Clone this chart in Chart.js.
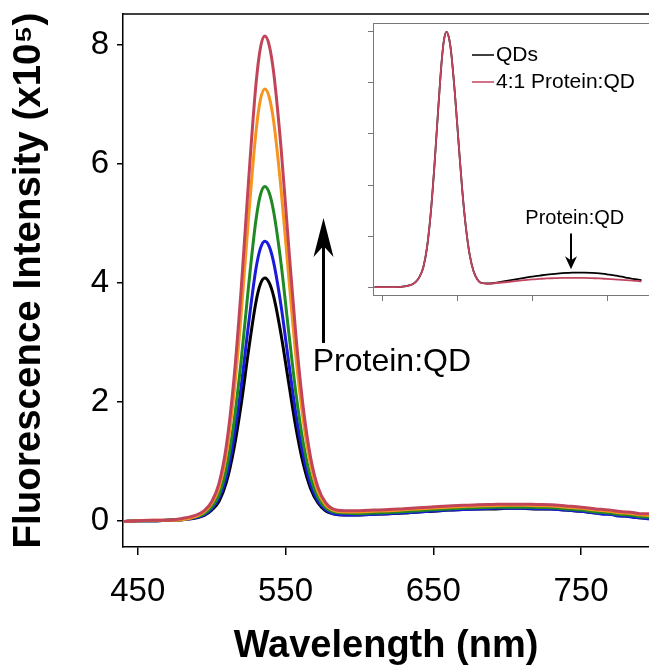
<!DOCTYPE html>
<html>
<head>
<meta charset="utf-8">
<script src="https://cdn.jsdelivr.net/npm/chart.js@4.4.0/dist/chart.umd.min.js"></script>
<style>
body{margin:0;background:#fff;}
#wrap{position:relative;width:649px;height:671px;overflow:hidden;background:#fff;}
#main{position:absolute;left:0;top:0;}
#inset{position:absolute;left:360px;top:18px;}
</style>
</head>
<body>
<div id="wrap">
<canvas id="main" width="649" height="671"></canvas>
<canvas id="inset" width="289" height="290"></canvas>
</div>
<script>
// wavelengths (nm), shared by every curve
const wavelengths = [440,450,460,470,480,490,495,500,505,510,515,520,525,530,533,536,539,542,547,552,557,562,567,572,577,582,590,
    600,610,620,630,640,650,660,670,680,690,700,710,720,730,740,750,760,765,770,775,780,785,790,796];

// main panel, intensity x10^5, increasing Protein:QD ratio
const qdOnly = [-0.01,0,0,0.01,0.02,0.05,0.09,0.18,0.33,0.65,1.20,1.96,2.87,3.68,3.98,4.08,4.00,3.77,3.13,2.34,1.57,0.96,0.54,0.30,0.17,0.12,0.10,
    0.10,0.11,0.12,0.13,0.15,0.16,0.18,0.19,0.20,0.20,0.21,0.21,0.20,0.20,0.18,0.16,0.13,0.12,0.11,0.09,0.08,0.07,0.05,0.04];
const ratio1 = [-0.01,0,0,0.01,0.02,0.06,0.10,0.20,0.38,0.74,1.38,2.26,3.31,4.24,4.58,4.70,4.61,4.34,3.61,2.69,1.80,1.10,0.61,0.33,0.19,0.12,0.10,
    0.10,0.11,0.12,0.135,0.15,0.165,0.18,0.19,0.20,0.21,0.21,0.21,0.205,0.20,0.18,0.16,0.13,0.11,0.11,0.08,0.08,0.06,0.05,0.03];
const ratio2 = [-0.01,0,0,0.01,0.02,0.07,0.12,0.23,0.44,0.88,1.64,2.70,3.95,5.06,5.48,5.62,5.51,5.19,4.32,3.21,2.15,1.31,0.73,0.39,0.22,0.15,0.13,
    0.12,0.13,0.14,0.155,0.17,0.185,0.20,0.21,0.22,0.23,0.23,0.23,0.225,0.22,0.20,0.18,0.15,0.14,0.13,0.11,0.10,0.09,0.07,0.06];
const ratio3 = [-0.01,0,0.01,0.01,0.02,0.08,0.15,0.29,0.56,1.13,2.11,3.48,5.10,6.54,7.08,7.26,7.12,6.71,5.57,4.15,2.77,1.69,0.94,0.49,0.27,0.18,0.15,
    0.15,0.16,0.17,0.185,0.20,0.215,0.23,0.24,0.25,0.255,0.26,0.26,0.255,0.25,0.23,0.21,0.18,0.17,0.16,0.14,0.13,0.12,0.10,0.09];
const ratio4 = [-0.01,0,0.01,0.01,0.04,0.10,0.17,0.32,0.63,1.27,2.36,3.90,5.72,7.34,7.95,8.15,7.99,7.53,6.26,4.66,3.12,1.90,1.06,0.56,0.31,0.20,0.17,
    0.17,0.18,0.19,0.205,0.22,0.235,0.25,0.26,0.27,0.275,0.28,0.28,0.275,0.27,0.25,0.23,0.20,0.19,0.18,0.16,0.15,0.14,0.12,0.12];

// inset, normalised spectra
const insetQD = [0,0,0,0,0.003,0.01,0.02,0.04,0.077,0.155,0.29,0.48,0.70,0.90,0.975,1.0,0.98,0.925,0.766,0.57,0.38,0.23,0.125,0.063,0.031,0.017,0.014,
    0.016,0.021,0.026,0.031,0.036,0.041,0.045,0.049,0.052,0.055,0.056,0.057,0.057,0.056,0.054,0.050,0.046,0.043,0.041,0.037,0.035,0.032,0.030,0.027];
const insetProtein = [0,0,0,0,0.003,0.01,0.02,0.04,0.077,0.155,0.29,0.48,0.70,0.90,0.975,1.0,0.98,0.925,0.766,0.57,0.38,0.23,0.125,0.062,0.030,0.016,0.013,
    0.015,0.018,0.021,0.024,0.027,0.030,0.032,0.034,0.035,0.036,0.036,0.036,0.036,0.035,0.034,0.032,0.030,0.029,0.028,0.027,0.026,0.025,0.024,0.022];

const xTicks = [450, 550, 650, 750];
const yTicks = [0, 2, 4, 6, 8];
const insetYTicks = [0, 0.2, 0.4, 0.6, 0.8, 1.0];

const FONT = "'Liberation Sans', Arial, Helvetica, sans-serif";

function pts(arr) {
    return wavelengths.map(function(w, i){ return {x: w, y: arr[i]}; });
}

function line(label, arr, color, width, order) {
    return {label: label, data: pts(arr), borderColor: color, backgroundColor: color,
        borderWidth: width, pointRadius: 0, fill: false, cubicInterpolationMode: 'monotone', order: order};
}

// no extra room for half tick labels, the axes sit where the figure has them
function noPad(s) {
    s.paddingTop = 0; s.paddingBottom = 0; s.paddingLeft = 0; s.paddingRight = 0;
}

// annotation positions in data units
const mainArrow = {x: 575.7, from: 2.99, to: 5.09};
const mainNote = {text: 'Protein:QD', x: 622, y: 2.66};
const insetArrow = {x: 702, from: 0.21, to: 0.07};
const insetNote = {text: 'Protein:QD', x: 707, y: 0.27};

function drawArrow(ctx, x, yFrom, yTo, head, half, notch, width) {
    var dir = yTo < yFrom ? 1 : -1;
    ctx.lineWidth = width;
    ctx.beginPath();
    ctx.moveTo(x, yFrom);
    ctx.lineTo(x, yTo + dir * notch);
    ctx.stroke();
    ctx.beginPath();
    ctx.moveTo(x, yTo);
    ctx.lineTo(x - half, yTo + dir * head);
    ctx.lineTo(x, yTo + dir * notch);
    ctx.lineTo(x + half, yTo + dir * head);
    ctx.closePath();
    ctx.fill();
}

const mainDecor = {
    id: 'mainDecor',
    afterDraw: function(chart) {
        const ctx = chart.ctx, a = chart.chartArea, sx = chart.scales.x, sy = chart.scales.y;
        ctx.save();
        ctx.strokeStyle = '#000';
        ctx.fillStyle = '#000';
        ctx.lineWidth = 1.5;
        ctx.beginPath();
        ctx.moveTo(a.left, a.top);
        ctx.lineTo(a.right, a.top);
        ctx.stroke();
        drawArrow(ctx, sx.getPixelForValue(mainArrow.x), sy.getPixelForValue(mainArrow.from),
            sy.getPixelForValue(mainArrow.to), 39, 10, 28, 3);
        ctx.font = '32px ' + FONT;
        ctx.textAlign = 'center';
        ctx.textBaseline = 'middle';
        ctx.fillText(mainNote.text, sx.getPixelForValue(mainNote.x), sy.getPixelForValue(mainNote.y));
        ctx.restore();
    }
};

const insetDecor = {
    id: 'insetDecor',
    afterDraw: function(chart) {
        const ctx = chart.ctx, a = chart.chartArea, sx = chart.scales.x, sy = chart.scales.y;
        ctx.save();
        ctx.strokeStyle = '#777';
        ctx.lineWidth = 1;
        ctx.beginPath();
        ctx.moveTo(a.left, a.top + 0.5);
        ctx.lineTo(a.right, a.top + 0.5);
        ctx.stroke();
        // legend
        ctx.font = '21px ' + FONT;
        ctx.textAlign = 'left';
        ctx.textBaseline = 'middle';
        chart.data.datasets.forEach(function(ds, i){
            var ly = a.top + 32 + i * 27;
            ctx.strokeStyle = ds.borderColor;
            ctx.lineWidth = 1.5;
            ctx.beginPath();
            ctx.moveTo(a.left + 99, ly);
            ctx.lineTo(a.left + 121, ly);
            ctx.stroke();
            ctx.fillStyle = '#000';
            ctx.fillText(ds.label, a.left + 123, ly);
        });
        ctx.fillStyle = '#000';
        ctx.strokeStyle = '#000';
        drawArrow(ctx, sx.getPixelForValue(insetArrow.x), sy.getPixelForValue(insetArrow.from),
            sy.getPixelForValue(insetArrow.to), 13, 6, 9, 2);
        ctx.font = '20px ' + FONT;
        ctx.textAlign = 'center';
        ctx.fillText(insetNote.text, sx.getPixelForValue(insetNote.x), sy.getPixelForValue(insetNote.y));
        ctx.restore();
    }
};

const mainChart = new Chart(document.getElementById('main'), {
    type: 'line',
    data: {
        datasets: [
            line('4:1', ratio4, '#c24458', 3, 0),
            line('3:1', ratio3, '#f7941e', 3, 1),
            line('2:1', ratio2, '#1f8a24', 3, 2),
            line('1:1', ratio1, '#1a1adb', 3, 3),
            line('QDs', qdOnly, '#000000', 3, 4)
        ]
    },
    options: {
        responsive: false,
        animation: false,
        layout: {padding: {top: 14, right: 0, bottom: 0, left: 0}},
        plugins: {legend: {display: false}, tooltip: {enabled: false}},
        scales: {
            x: {
                type: 'linear', min: 440, max: 796,
                afterBuildTicks: function(s){ s.ticks = xTicks.map(function(v){ return {value: v}; }); },
                afterFit: function(s){ s.height = 124; noPad(s); },
                border: {display: true, color: '#000', width: 1.5},
                grid: {drawOnChartArea: false, drawTicks: true, tickLength: 8, color: '#000', lineWidth: 1.5},
                ticks: {color: '#000', padding: 17, maxRotation: 0, font: {family: FONT, size: 33}},
                title: {display: true, text: 'Wavelength (nm)', color: '#000',
                    font: {family: FONT, size: 38, weight: 'bold'}, padding: {top: 0, bottom: 2}}
            },
            y: {
                type: 'linear', min: -0.44, max: 8.52,
                afterBuildTicks: function(s){ s.ticks = yTicks.map(function(v){ return {value: v}; }); },
                afterFit: function(s){ s.width = 123; noPad(s); },
                border: {display: true, color: '#000', width: 1.5},
                grid: {drawOnChartArea: false, drawTicks: true, tickLength: 6, color: '#000', lineWidth: 1.5},
                ticks: {color: '#000', padding: 8, font: {family: FONT, size: 33}},
                title: {display: true, text: 'Fluorescence Intensity (x10\u2075)', color: '#000',
                    font: {family: FONT, size: 38.5, weight: 'bold'}, padding: {top: 6, bottom: 0}}
            }
        }
    },
    plugins: [mainDecor]
});

const insetChart = new Chart(document.getElementById('inset'), {
    type: 'line',
    data: {
        datasets: [
            line('QDs', insetQD, '#000000', 1.8, 1),
            line('4:1 Protein:QD', insetProtein, '#c2445e', 1.8, 0)
        ]
    },
    options: {
        responsive: false,
        animation: false,
        layout: {padding: {top: 5, right: 0, bottom: 0, left: 0}},
        plugins: {legend: {display: false}, tooltip: {enabled: false}},
        scales: {
            x: {
                type: 'linear', min: 438, max: 806,
                afterBuildTicks: function(s){ s.ticks = xTicks.map(function(v){ return {value: v}; }); },
                afterFit: function(s){ s.height = 13; noPad(s); },
                border: {display: true, color: '#777', width: 1},
                grid: {drawOnChartArea: false, drawTicks: true, tickLength: 6, color: '#777', lineWidth: 1},
                ticks: {display: false}
            },
            y: {
                type: 'linear', min: -0.031, max: 1.035,
                afterBuildTicks: function(s){ s.ticks = insetYTicks.map(function(v){ return {value: v}; }); },
                afterFit: function(s){ s.width = 13; noPad(s); },
                border: {display: true, color: '#777', width: 1},
                grid: {drawOnChartArea: false, drawTicks: true, tickLength: 5, color: '#777', lineWidth: 1},
                ticks: {display: false}
            }
        }
    },
    plugins: [insetDecor]
});
</script>
</body>
</html>
